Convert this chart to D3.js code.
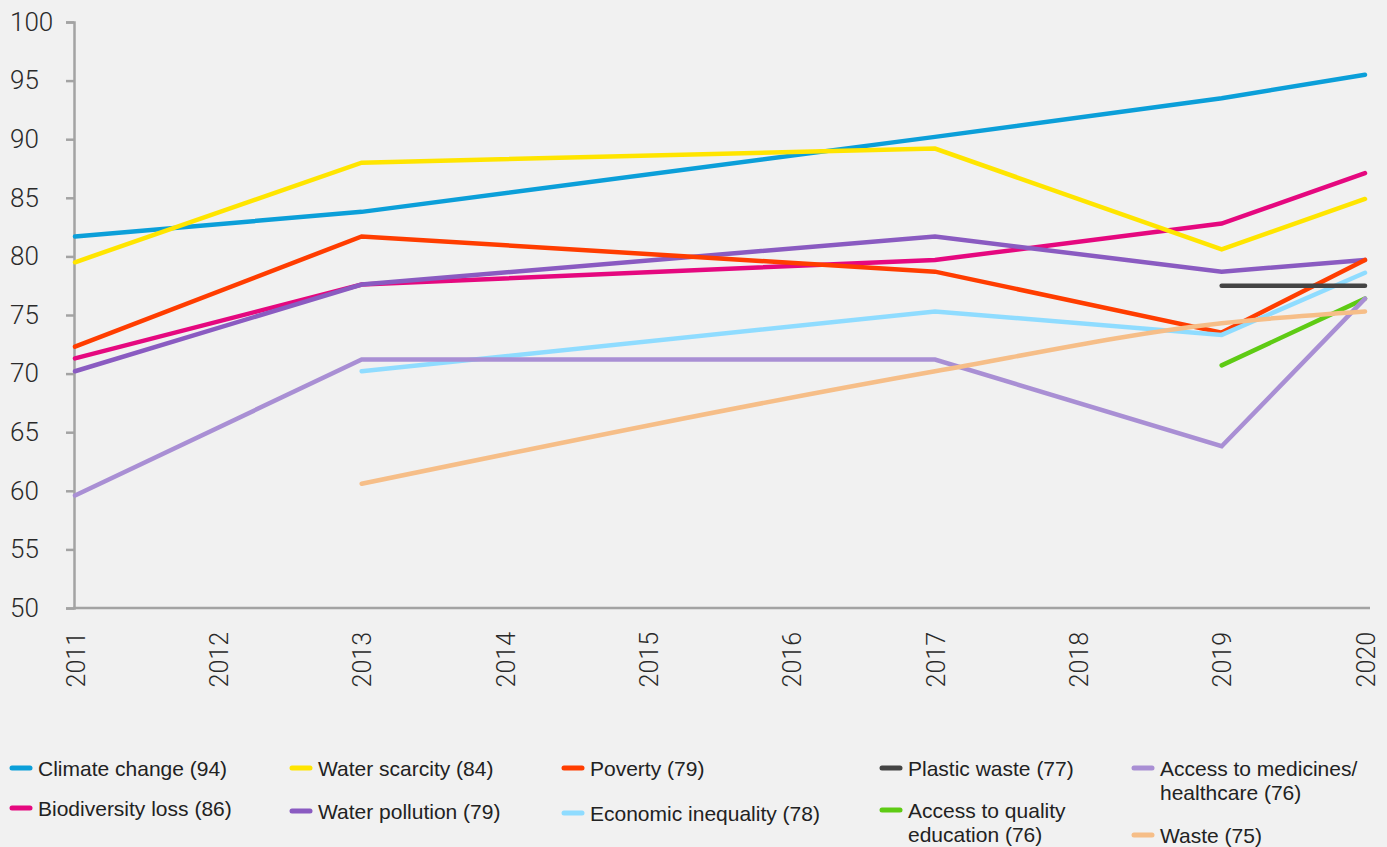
<!DOCTYPE html>
<html>
<head>
<meta charset="utf-8">
<script src="https://cdn.jsdelivr.net/npm/d3@7"></script>
<style>
  body { margin: 0; background: #f1f1f1; }
  svg { display: block; }
</style>
</head>
<body>
<div id="chart"></div>
<script>
// survey years that carry data
var years = [2011, 2013, 2017, 2019, 2020];
var axisYears = [2011, 2012, 2013, 2014, 2015, 2016, 2017, 2018, 2019, 2020];
var yTicks = [50, 55, 60, 65, 70, 75, 80, 85, 90, 95, 100];

var names = ["Climate change (94)", "Biodiversity loss (86)", "Water scarcity (84)",
  "Water pollution (79)", "Poverty (79)", "Economic inequality (78)", "Plastic waste (77)",
  "Access to quality education (76)", "Access to medicines/ healthcare (76)", "Waste (75)"];

var climateChange   = [81.7, 83.8, 90.2, 93.5, 95.5];
var biodiversity    = [71.3, 77.6, 79.7, 82.8, 87.1];
var waterScarcity   = [79.5, 88.0, 89.2, 80.6, 84.9];
var waterPollution  = [70.2, 77.6, 81.7, 78.7, 79.7];
var poverty         = [72.3, 81.7, 78.7, 73.5, 79.7];
var econInequality  = [null, 70.2, 75.3, 73.3, 78.6];
var plasticWaste    = [null, null, null, 77.5, 77.5];
var education       = [null, null, null, 70.7, 76.4];
var medicines       = [59.6, 71.2, 71.2, 63.8, 76.4];
var waste           = [null, 60.6, 70.2, 74.3, 75.3];

var seriesValues = [climateChange, biodiversity, waterScarcity, waterPollution, poverty,
  econInequality, plasticWaste, education, medicines, waste];
var colors = ["#0b9fd9", "#e5087f", "#ffe500", "#8a5bc1", "#ff3d00",
  "#8fdcff", "#444444", "#5ecb14", "#a98fd4", "#f6be88"];

// legend text split into lines
var legendLines = [["Climate change (94)"], ["Biodiversity loss (86)"], ["Water scarcity (84)"],
  ["Water pollution (79)"], ["Poverty (79)"], ["Economic inequality (78)"], ["Plastic waste (77)"],
  ["Access to quality", "education (76)"], ["Access to medicines/", "healthcare (76)"], ["Waste (75)"]];
var legendPos = [[10, 768], [10, 808], [290, 768], [290, 811], [562, 768],
  [562, 813], [880, 768], [880, 810], [1132, 768], [1132, 835]];

var W = 1387, H = 847;
var svg = d3.select("#chart").append("svg")
  .attr("width", W)
  .attr("height", H);

var x = d3.scaleLinear().domain([2011, 2020]).range([75, 1365]);
var y = d3.scaleLinear().domain([50, 100]).range([608, 22]);

var axisColor = "#a3a3a3";
var tickFont = "Roboto, 'Liberation Sans', Arial, sans-serif";

// Y axis
var yAxis = svg.append("g")
  .attr("transform", "translate(74,0)")
  .call(d3.axisLeft(y).tickValues(yTicks).tickSize(8).tickFormat(d3.format("d")));
yAxis.select(".domain").attr("stroke", axisColor).attr("stroke-width", 2.5);
yAxis.selectAll(".tick line").attr("stroke", axisColor).attr("stroke-width", 2.5);
yAxis.selectAll(".tick text")
  .attr("x", -64)
  .attr("text-anchor", "start")
  .attr("fill", "#2a2a2a")
  .style("font-family", tickFont)
  .style("font-weight", 300)
  .style("font-size", "26px");

// X axis
var xAxis = svg.append("g")
  .attr("transform", "translate(0,608)")
  .call(d3.axisBottom(x).tickValues(axisYears).tickSize(0).tickFormat(d3.format("d")));
xAxis.select(".domain")
  .attr("d", "M73,0H1370")
  .attr("stroke", axisColor).attr("stroke-width", 2.5);
xAxis.selectAll(".tick text")
  .attr("transform", "rotate(-90)")
  .attr("x", -24)
  .attr("y", 0)
  .attr("dy", "0.36em")
  .attr("text-anchor", "end")
  .attr("fill", "#2a2a2a")
  .style("font-family", tickFont)
  .style("font-weight", 300)
  .style("font-size", "25px");

// Lines
seriesValues.forEach(function(vals, i) {
  var pts = [];
  for (let k = 0; k < years.length; k++) {
    if (vals[k] != null) pts.push([years[k], vals[k]]);
  }
  var line = d3.line()
    .x(function(d) { return x(d[0]); })
    .y(function(d) { return y(d[1]); });
  if (i == 9) line.curve(d3.curveMonotoneX);
  svg.append("path")
    .datum(pts)
    .attr("fill", "none")
    .attr("stroke", colors[i])
    .attr("stroke-width", 4.5)
    .attr("stroke-linecap", "round")
    .attr("stroke-linejoin", "miter")
    .attr("d", line);
});

// Legend
var legend = svg.append("g");
names.forEach(function(n, i) {
  var g = legend.append("g").attr("transform", "translate(" + legendPos[i][0] + "," + legendPos[i][1] + ")");
  g.append("line")
    .attr("x1", 2).attr("x2", 20)
    .attr("y1", 0).attr("y2", 0)
    .attr("stroke", colors[i])
    .attr("stroke-width", 5)
    .attr("stroke-linecap", "round");
  var t = g.append("text")
    .attr("x", 28)
    .attr("fill", "#222")
    .style("font-family", "'Liberation Sans', Arial, sans-serif")
    .style("font-size", "21px");
  legendLines[i].forEach(function(l, j) {
    t.append("tspan").attr("x", 28).attr("y", j * 24).attr("dy", "0.36em").text(l);
  });
});
</script>
</body>
</html>
